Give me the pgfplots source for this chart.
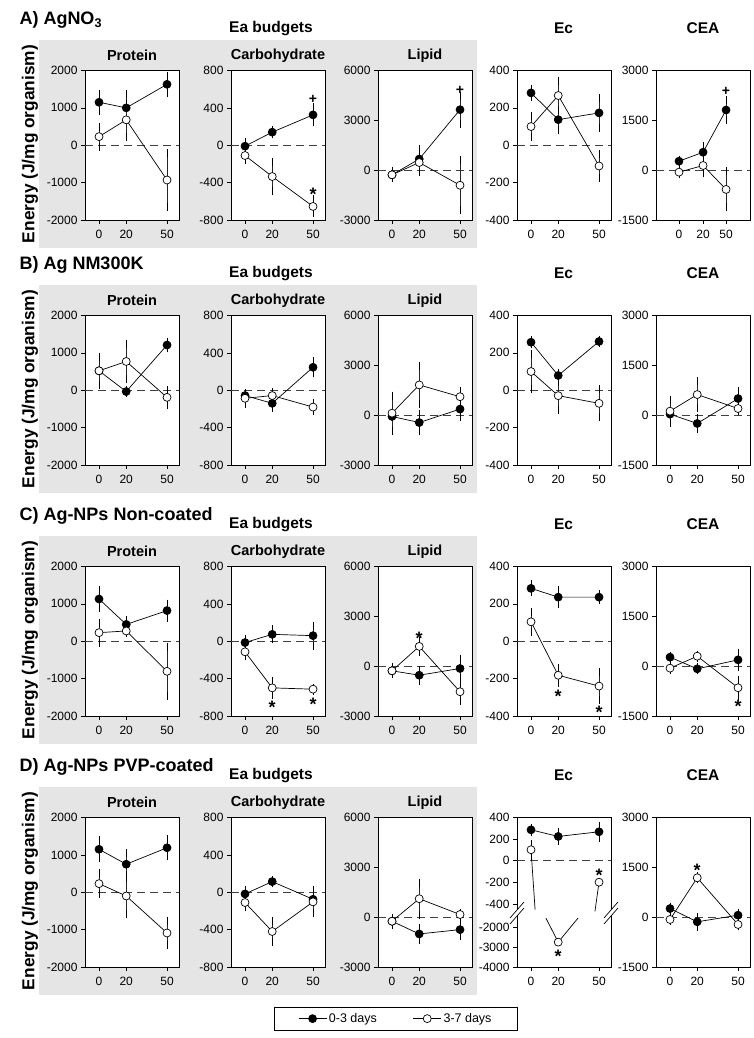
\documentclass[border=0pt]{standalone}
\usepackage{fontspec}
\setmainfont{Liberation Sans}
\usepackage{pgfplots}
\pgfplotsset{compat=1.18}
\pgfplotsset{
 panel/.style={scale only axis, width=94pt, height=149.5pt, anchor=south west,
   xmin=-10.3, xmax=58.8, xtick={0,20,50}, xticklabels={0,20,50},
   tick align=outside, tick pos=left, major tick length=4pt,
   axis line style={line width=0.7pt}, tick style={black, line width=0.7pt},
   tick label style={font=\fontsize{12}{14}\selectfont}, xticklabel shift=3pt,
   axis background/.style={fill=white}, clip=false},
 P/.style={ymin=-2000,ymax=2000,ytick={-2000,-1000,0,1000,2000},yticklabels={-2000,-1000,0,1000,2000}},
 C/.style={ymin=-800,ymax=800,ytick={-800,-400,0,400,800},yticklabels={-800,-400,0,400,800}},
 L/.style={ymin=-3000,ymax=6000,ytick={-3000,0,3000,6000},yticklabels={-3000,0,3000,6000}},
 E/.style={ymin=-400,ymax=400,ytick={-400,-200,0,200,400},yticklabels={-400,-200,0,200,400}},
 A/.style={ymin=-1500,ymax=3000,ytick={-1500,0,1500,3000},yticklabels={-1500,0,1500,3000}},
 zero/.style={forget plot, black!75, line width=0.7pt, dash pattern=on 8pt off 5pt},
 fl/.style={black, line width=0.7pt, mark=*, mark size=4pt, mark options={solid, fill=black},
   error bars/y dir=both, error bars/y explicit,
   error bars/error mark options={black, mark size=4pt, line width=0.7pt},
   error bars/error bar style={black!85, line width=0.7pt}},
 op/.style={black, line width=0.7pt, mark=*, mark size=4pt, mark options={solid, fill=white},
   error bars/y dir=both, error bars/y explicit,
   error bars/error mark options={black, mark size=4pt, line width=0.7pt},
   error bars/error bar style={black!85, line width=0.7pt}},
}
\tikzset{
 ptitle/.style={font=\bfseries\fontsize{14.5}{17}\selectfont, yshift=15pt},
 star/.style={font=\bfseries\fontsize{18}{18}\selectfont, yshift=-4pt},
 plus/.style={font=\bfseries\fontsize{14}{14}\selectfont},
}
\newcommand{\panel}[6]{%
\begin{axis}[panel,#3,at={(#1pt,#2pt)}]
\addplot[zero] coordinates {(-10.3,0) (58.8,0)};
\addplot[fl] table[row sep=\\,y error=e]{x y e\\#5};
\addplot[op] table[row sep=\\,y error=e]{x y e\\#6};
#4
\end{axis}}
\newcommand{\rowdeco}[2]{%
\fill[gray!20] (39pt,{#1pt-28pt}) rectangle (477pt,{#1pt+179.5pt});
\node[anchor=west, font=\bfseries\fontsize{18}{21}\selectfont] at (16pt,{#1pt+200pt}) {#2};
\node[font=\bfseries\fontsize{15.5}{18}\selectfont] at (271pt,{#1pt+191.5pt}) {Ea budgets};
\node[font=\bfseries\fontsize{15.5}{18}\selectfont] at (563.5pt,{#1pt+191.5pt}) {Ec};
\node[font=\bfseries\fontsize{15.5}{18}\selectfont] at (703pt,{#1pt+191.5pt}) {CEA};
\node[rotate=90, font=\bfseries\fontsize{17.3}{20}\selectfont] at (30pt,{#1pt+76pt}) {Energy (J/mg organism)};
}
\begin{document}
\begin{tikzpicture}
\useasboundingbox (0,0) rectangle (754pt,1038pt);
\rowdeco{818}{A) AgNO\textsubscript{3}}
\rowdeco{573}{B) Ag NM300K}
\rowdeco{322}{C) Ag-NPs Non-coated}
\rowdeco{71}{D) Ag-NPs PVP-coated}

% ---------------- Row A: AgNO3
\panel{85}{818}{P}{\node[ptitle] at (rel axis cs:0.5,1) {Protein};}
 {0 1150 230\\20 1000 360\\50 1630 230\\}
 {0 230 270\\20 680 450\\50 -930 710\\}
\panel{231}{818}{C}{\node[ptitle] at (rel axis cs:0.5,1) {Carbohydrate};
  \node[plus] at (axis cs:50,486) {+};\node[star] at (axis cs:50,-479) {*};}
 {0 -10 50\\20 140 25\\50 325 80\\}
 {0 -110 45\\20 -335 160\\50 -655 75\\}
\panel{378}{818}{L}{\node[ptitle] at (rel axis cs:0.5,1) {Lipid};
  \node[plus] at (axis cs:50,4820) {+};}
 {0 -280 150\\20 670 600\\50 3640 850\\}
 {0 -280 200\\20 460 550\\50 -910 1500\\}
\panel{517}{818}{E}{}
 {0 280 22\\20 137 57\\50 173 80\\}
 {0 100 55\\20 266 80\\50 -111 62\\}
\panel{656}{818}{A,xtick={6.6,24.3,41.2}}{\node[plus] at (axis cs:41.2,2380) {+};}
 {6.6 270 50\\24.3 540 180\\41.2 1810 300\\}
 {6.6 -60 70\\24.3 140 230\\41.2 -580 540\\}

% ---------------- Row B: NM300K
\panel{85}{573}{P}{\node[ptitle] at (rel axis cs:0.5,1) {Protein};}
 {0 520 140\\20 -35 40\\50 1210 90\\}
 {0 520 380\\20 770 470\\50 -190 200\\}
\panel{231}{573}{C}{\node[ptitle] at (rel axis cs:0.5,1) {Carbohydrate};}
 {0 -57 20\\20 -140 50\\50 246 66\\}
 {0 -86 60\\20 -57 37\\50 -180 40\\}
\panel{378}{573}{L}{\node[ptitle] at (rel axis cs:0.5,1) {Lipid};}
 {0 -80 100\\20 -445 530\\50 365 470\\}
 {0 120 1050\\20 1820 1150\\50 1110 330\\}
\panel{517}{573}{E}{}
 {0 257 10\\20 79 15\\50 261 10\\}
 {0 100 95\\20 -29 75\\50 -70 75\\}
\panel{656}{573}{A}{}
 {0 30 60\\20 -250 170\\50 500 220\\}
 {0 120 350\\20 620 400\\50 200 80\\}

% ---------------- Row C: Non-coated
\panel{85}{322}{P}{\node[ptitle] at (rel axis cs:0.5,1) {Protein};}
 {0 1130 230\\20 450 130\\50 820 185\\}
 {0 230 265\\20 275 50\\50 -805 660\\}
\panel{231}{322}{C}{\node[ptitle] at (rel axis cs:0.5,1) {Carbohydrate};
  \node[star] at (axis cs:20,-669) {*};\node[star] at (axis cs:50,-634) {*};}
 {0 -14 40\\20 74 53\\50 60 108\\}
 {0 -113 50\\20 -499 71\\50 -513 15\\}
\panel{378}{322}{L}{\node[ptitle] at (rel axis cs:0.5,1) {Lipid};
  \node[star] at (axis cs:20,1940) {*};}
 {0 -280 200\\20 -545 330\\50 -140 600\\}
 {0 -280 150\\20 1190 320\\50 -1540 530\\}
\panel{517}{322}{E}{\node[star] at (axis cs:20,-272) {*};\node[star] at (axis cs:50,-361) {*};}
 {0 283 22\\20 236 38\\50 236 15\\}
 {0 104 55\\20 -182 40\\50 -240 73\\}
\panel{656}{322}{A}{\node[star] at (axis cs:50,-1080) {*};}
 {0 270 50\\20 -80 50\\50 190 215\\}
 {0 -60 50\\20 300 50\\50 -650 240\\}

% ---------------- Row D: PVP-coated
\panel{85}{71}{P}{\node[ptitle] at (rel axis cs:0.5,1) {Protein};}
 {0 1150 235\\20 750 290\\50 1190 230\\}
 {0 230 275\\20 -100 490\\50 -1090 330\\}
\panel{231}{71}{C}{\node[ptitle] at (rel axis cs:0.5,1) {Carbohydrate};}
 {0 -18 40\\20 114 15\\50 -75 100\\}
 {0 -110 50\\20 -420 115\\50 -103 120\\}
\panel{378}{71}{L,
   legend style={at={(0.19,-0.2676)}, anchor=north, legend columns=2, draw=black,
     line width=0.7pt, font=\fontsize{12.5}{15}\selectfont, inner xsep=24pt, inner ysep=4pt,
     /tikz/every even column/.append style={column sep=34pt}},
   legend image code/.code={\draw[mark repeat=2,mark phase=2] plot coordinates {(0pt,0pt) (14pt,0pt) (28pt,0pt)};}}
 {\node[ptitle] at (rel axis cs:0.5,1) {Lipid};
  \addlegendentry{0-3 days}\addlegendentry{3-7 days}}
 {0 -245 200\\20 -1010 380\\50 -750 400\\}
 {0 -245 150\\20 1110 960\\50 160 80\\}

% Ec with broken axis
\begin{axis}[panel, at={(517pt,71pt)}, ymin=-982, ymax=400,
  ytick={-982,-798,-615,-400,-200,0,200,400},
  yticklabels={-4000,-3000,-2000,-400,-200,0,200,400}]
\addplot[zero] coordinates {(-10.3,0) (58.8,0)};
\addplot[fl] table[row sep=\\,y error=e]{x y e\\0 286 20\\20 225 40\\50 268 55\\};
\addplot[forget plot, black, line width=0.7pt] coordinates {(0,102) (3,-452)};
\addplot[forget plot, black, line width=0.7pt] coordinates {(10.9,-529) (20,-752) (34.6,-529)};
\addplot[forget plot, black, line width=0.7pt] coordinates {(47,-468) (50,-198)};
\addplot[op, only marks] table[row sep=\\,y error=e]{x y e\\0 102 55\\20 -752 0\\50 -198 0\\};
\node[star] at (axis cs:50,-98) {*};
\node[star] at (axis cs:20,-850) {*};
\fill[white, shift={(axis cs:-10.3,-492)}] (-7pt,-10pt) -- (7pt,6pt) -- (7pt,12pt) -- (-7pt,-4pt) -- cycle;
\draw[black, line width=0.7pt, shift={(axis cs:-10.3,-492)}] (-7pt,-10pt) -- (7pt,6pt) (-7pt,-4pt) -- (7pt,12pt);
\fill[white, shift={(axis cs:58.8,-492)}] (-7pt,-10pt) -- (7pt,6pt) -- (7pt,12pt) -- (-7pt,-4pt) -- cycle;
\draw[black, line width=0.7pt, shift={(axis cs:58.8,-492)}] (-7pt,-10pt) -- (7pt,6pt) (-7pt,-4pt) -- (7pt,12pt);
\end{axis}

\panel{656}{71}{A}{\node[star] at (axis cs:20,1536) {*};}
 {0 260 60\\20 -140 150\\50 60 60\\}
 {0 -70 50\\20 1185 50\\50 -220 60\\}
\end{tikzpicture}
\end{document}
